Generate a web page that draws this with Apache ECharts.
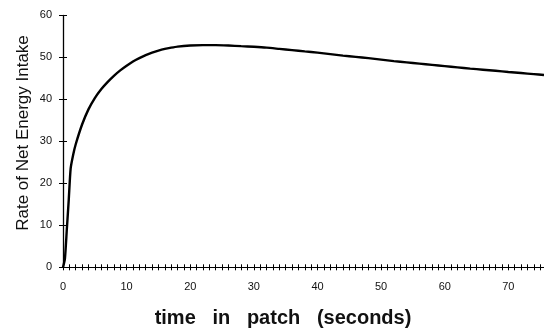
<!DOCTYPE html>
<html>
<head>
<meta charset="utf-8">
<script src="https://cdn.jsdelivr.net/npm/echarts@6/dist/echarts.min.js"></script>
<style>
html,body{margin:0;padding:0;background:#fff;}
#chart{width:544px;height:336px;}
</style>
</head>
<body>
<div id="chart"></div>
<script>
// time in patch (seconds)
const timeValues = [0, 0.3, 0.6, 0.9, 1.2, 1.6, 2, 3, 4, 5, 6, 7, 8, 9, 10, 11, 12, 13, 14, 15, 16, 17, 18, 20, 22, 24, 26, 28, 30, 32, 34, 36, 38, 40, 42, 44, 46, 48, 50, 52, 54, 56, 58, 60, 62, 64, 66, 68, 70, 72, 74, 75.6];
// rate of net energy intake
const rateValues = [0, 2, 9, 16, 23.5, 26.8, 29.3, 34.0, 37.6, 40.3, 42.4, 44.1, 45.6, 46.9, 48.0, 49.0, 49.8, 50.5, 51.1, 51.6, 52.0, 52.3, 52.55, 52.8, 52.9, 52.9, 52.8, 52.65, 52.5, 52.3, 52.0, 51.7, 51.4, 51.1, 50.75, 50.4, 50.1, 49.8, 49.45, 49.1, 48.8, 48.5, 48.2, 47.9, 47.6, 47.3, 47.05, 46.8, 46.5, 46.25, 46.0, 45.8];
const xTickLabels = [0, 10, 20, 30, 40, 50, 60, 70];
const yTickLabels = [0, 10, 20, 30, 40, 50, 60];
const xTitle = 'time   in   patch   (seconds)';
const yTitle = 'Rate of Net Energy Intake';

const seriesData = timeValues.map((t, i) => [t, rateValues[i]]);
const chart = echarts.init(document.getElementById('chart'), null, {renderer: 'canvas'});
const labelFont = {fontFamily: 'Liberation Sans, Arial, sans-serif', fontSize: 11, color: '#111'};

chart.setOption({
  animation: false,
  backgroundColor: '#fff',
  grid: {left: 63, right: 0, top: 15.3, bottom: 68.7, containLabel: false},
  xAxis: [
    {
      type: 'value', min: 0, max: 75.6, interval: 1, position: 'bottom',
      axisLine: {show: true, onZero: false, lineStyle: {color: '#000', width: 1.2}},
      axisTick: {show: true, inside: false, length: 3, lineStyle: {color: '#000', width: 1}},
      axisLabel: Object.assign({
        margin: 14, showMaxLabel: false,
        formatter: v => (xTickLabels.indexOf(v) >= 0 ? String(v) : '')
      }, labelFont),
      splitLine: {show: false}
    },
    {
      type: 'value', min: 0, max: 75.6, interval: 1, position: 'bottom',
      axisLine: {show: false, onZero: false},
      axisTick: {show: true, inside: true, length: 3, lineStyle: {color: '#000', width: 1}},
      axisLabel: {show: false},
      splitLine: {show: false}
    }
  ],
  yAxis: [
    {
      type: 'value', min: 0, max: 60, interval: 10, position: 'left',
      axisLine: {show: true, onZero: false, lineStyle: {color: '#000', width: 1.3}},
      axisTick: {show: true, inside: false, length: 4, lineStyle: {color: '#000', width: 1}},
      axisLabel: Object.assign({
        margin: 11,
        formatter: v => (yTickLabels.indexOf(v) >= 0 ? String(v) : '')
      }, labelFont),
      splitLine: {show: false}
    },
    {
      type: 'value', min: 0, max: 60, interval: 10, position: 'left',
      axisLine: {show: false, onZero: false},
      axisTick: {show: true, inside: true, length: 4, lineStyle: {color: '#000', width: 1}},
      axisLabel: {show: false},
      splitLine: {show: false}
    }
  ],
  graphic: [
    {
      type: 'text', x: 23, y: 133, rotation: Math.PI / 2,
      style: {text: yTitle, fontFamily: 'Liberation Sans, Arial, sans-serif', fontSize: 17,
        fill: '#111', align: 'center', verticalAlign: 'middle'}
    },
    {
      type: 'text', x: 283, y: 318,
      style: {text: xTitle, fontFamily: 'Liberation Sans, Arial, sans-serif', fontSize: 20, fontWeight: 'bold',
        fill: '#111', align: 'center', verticalAlign: 'middle'}
    }
  ],
  series: [
    {
      type: 'line', xAxisIndex: 0, yAxisIndex: 0,
      data: seriesData, smooth: 0.2, showSymbol: false, symbol: 'none',
      lineStyle: {color: '#000', width: 2.4},
      clip: true
    }
  ]
});
</script>
</body>
</html>
